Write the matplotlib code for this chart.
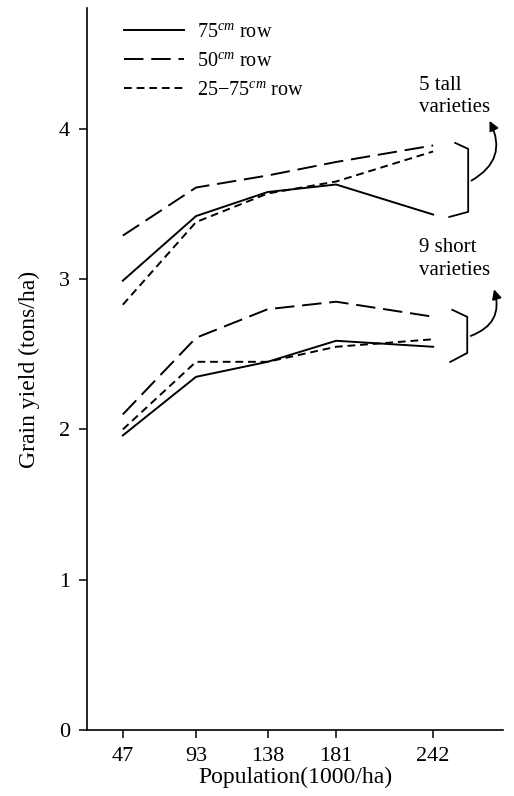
import numpy as np
import matplotlib.pyplot as plt

plt.rcParams['font.family'] = ['Liberation Serif', 'DejaVu Serif']
plt.rcParams['mathtext.fontset'] = 'custom'
plt.rcParams['mathtext.rm'] = 'Liberation Serif'
plt.rcParams['mathtext.it'] = 'Liberation Serif:italic'

population = [47, 93, 138, 181, 242]

# 5 tall varieties
tall_75 = [2.99, 3.42, 3.58, 3.63, 3.43]
tall_50 = [3.29, 3.61, 3.69, 3.78, 3.89]
tall_2575 = [2.83, 3.38, 3.57, 3.65, 3.85]

# 9 short varieties
short_75 = [1.96, 2.35, 2.45, 2.59, 2.55]
short_50 = [2.10, 2.61, 2.80, 2.85, 2.75]
short_2575 = [2.00, 2.45, 2.45, 2.55, 2.60]

labels = ['75$^{cm}$ row', '50$^{cm}$ row', '25$-$75$^{cm}$ row']

fig = plt.figure(figsize=(5.14, 7.96), dpi=100)
ax = fig.add_axes([0.169, 0.083, 0.81, 0.907])

lw = 1.4
solid = '-'
longdash = (0, (10, 4))
shortdash = (0, (4, 2.5))

l1, = ax.plot(population, tall_75, color='black', lw=lw, ls=solid)
l2, = ax.plot(population, tall_50, color='black', lw=lw, ls=longdash)
l3, = ax.plot(population, tall_2575, color='black', lw=lw, ls=shortdash)
ax.plot(population, short_75, color='black', lw=lw, ls=solid)
ax.plot(population, short_50, color='black', lw=lw, ls=longdash)
ax.plot(population, short_2575, color='black', lw=lw, ls=shortdash)

ax.legend([l1, l2, l3], labels, loc='upper left', bbox_to_anchor=(0.045, 1.005),
          frameon=False, fontsize=14.5, handlelength=3.0, handletextpad=0.65,
          labelspacing=0.5)

# brackets grouping the line ends
ax.plot([255.8, 264.0, 264.0, 252.1], [3.907, 3.867, 3.448, 3.414], color='black', lw=1.3)
ax.plot([254.0, 263.4, 263.4, 252.7], [2.796, 2.749, 2.509, 2.449], color='black', lw=1.3)

ax.annotate('', xy=(276.6, 4.07), xytext=(264.5, 3.647),
            arrowprops=dict(arrowstyle='-|>', color='black', lw=1.3,
                            connectionstyle='arc3,rad=0.5', mutation_scale=14))
ax.annotate('', xy=(279.7, 2.95), xytext=(263.9, 2.616),
            arrowprops=dict(arrowstyle='-|>', color='black', lw=1.3,
                            connectionstyle='arc3,rad=0.5', mutation_scale=14))

ax.text(233.0, 4.215, '5 tall\nvarieties', fontsize=15, ha='left', va='center',
        linespacing=1.25)
ax.text(233.0, 3.135, '9 short\nvarieties', fontsize=15, ha='left', va='center',
        linespacing=1.25)

ax.set_xlim(24.4, 286)
ax.set_ylim(0, 4.805)
ax.set_xticks(population)
ax.set_xticklabels([str(p) for p in population])
ax.set_yticks([0, 1, 2, 3, 4])
ax.spines['top'].set_visible(False)
ax.spines['right'].set_visible(False)
ax.spines['left'].set_linewidth(1.2)
ax.spines['bottom'].set_linewidth(1.2)
ax.tick_params(direction='out', length=6, width=1.1, labelsize=16, pad=6)
ax.set_xlabel('Population(1000/ha)', fontsize=17, labelpad=1)
ax.set_ylabel('Grain yield (tons/ha)', fontsize=17, labelpad=14)

fig.savefig('out.png', dpi=100)
